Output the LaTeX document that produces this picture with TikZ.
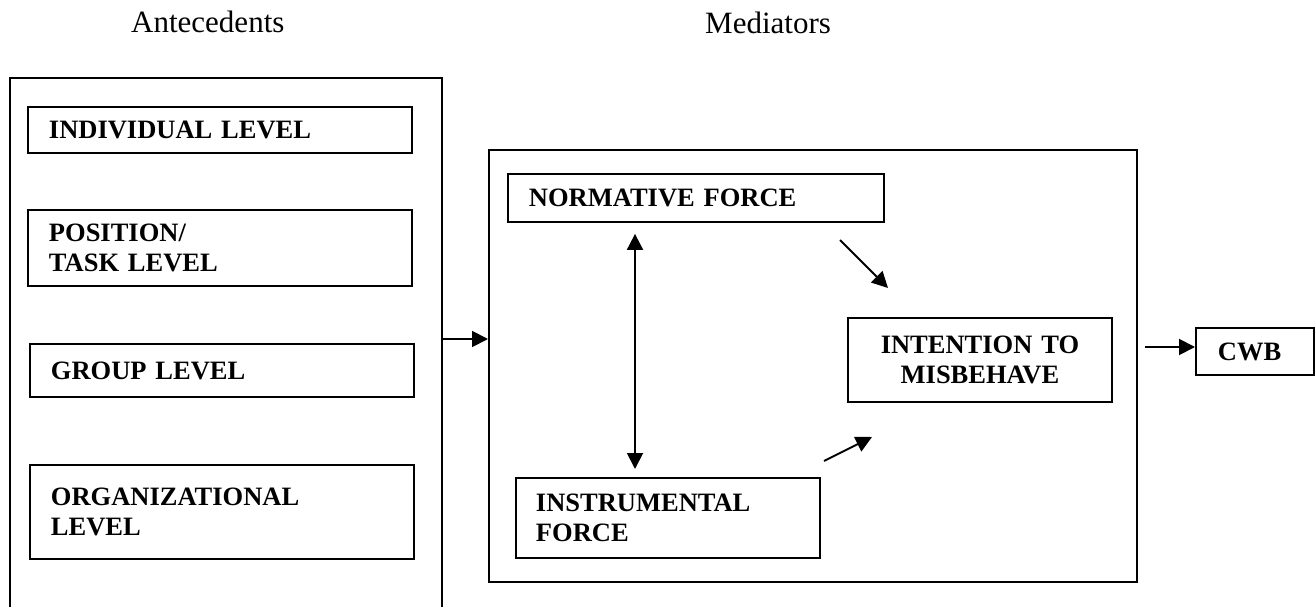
\documentclass[tikz,border=0pt]{standalone}
\usepackage{fontspec}
\setmainfont{Liberation Serif}
\usetikzlibrary{arrows.meta}
\begin{document}
\begin{tikzpicture}[x=1pt,y=-1pt,
  bx/.style={draw, line width=1.9pt, anchor=north west, inner xsep=21pt, inner ysep=0pt,
    align=left, font=\fontsize{26.5}{30}\selectfont\bfseries},
  frame/.style={draw, line width=1.9pt, anchor=north west, inner sep=0pt},
  lbl/.style={anchor=base west, inner sep=0pt, font=\fontsize{31}{36}\selectfont},
  arr/.style={line width=1.9pt, -{Triangle[length=16pt,width=16pt]}},
  dblarr/.style={line width=1.9pt, {Triangle[length=16pt,width=16pt]}-{Triangle[length=16pt,width=16pt]}}
]
\useasboundingbox (0,0) rectangle (1315,607);
\clip (0,0) rectangle (1315,607);

% headings
\node[lbl] (hant) at (131,33) {Antecedents};
\node[lbl] (hmed) at (705,34) {Mediators};

% containers
\node[frame, minimum width=432pt, minimum height=545pt] (ante) at (9,77) {};
\node[frame, minimum width=648pt, minimum height=432pt] (med) at (488,149) {};

% antecedent boxes
\node[bx, text width=342pt, minimum height=46pt] (ind) at (27,106) {INDIVIDUAL LEVEL};
\node[bx, text width=342pt, minimum height=76pt] (pos) at (27,209) {POSITION/\\TASK LEVEL};
\node[bx, text width=342pt, minimum height=53pt] (grp) at (29,343) {GROUP LEVEL};
\node[bx, text width=342pt, minimum height=94pt] (org) at (29,464) {ORGANIZATIONAL\\LEVEL\\[7pt]};

% mediator boxes
\node[bx, text width=334pt, minimum height=48pt] (norm) at (507,173) {NORMATIVE FORCE};
\node[bx, inner xsep=20pt, text width=264pt, minimum height=80pt] (inst) at (515,477) {INSTRUMENTAL\\FORCE};
\node[bx, inner xsep=10pt, text width=244pt, minimum height=84pt, align=center] (intn) at (847,317) {INTENTION TO\\MISBEHAVE};
\node[bx, inner xsep=22pt, text width=74pt, minimum height=47pt] (cwb) at (1195,327) {CWB};

% connectors
\coordinate (yin) at (0,339);
\draw[arr] (ante.east |- yin) -- (med.west |- yin);

\coordinate (xdbl) at (635,0);
\draw[dblarr, shorten <=11pt, shorten >=8pt] (norm.south -| xdbl) -- (inst.north -| xdbl);

\coordinate (n1) at (840,240);
\coordinate (n2) at (888,288);
\draw[arr] (n1) -- (n2);

\coordinate (i1) at (824,461);
\coordinate (i2) at (872,437);
\draw[arr] (i1) -- (i2);

\coordinate (yout) at (0,347);
\draw[arr, shorten <=7pt] (med.east |- yout) -- (cwb.west |- yout);
\end{tikzpicture}
\end{document}
